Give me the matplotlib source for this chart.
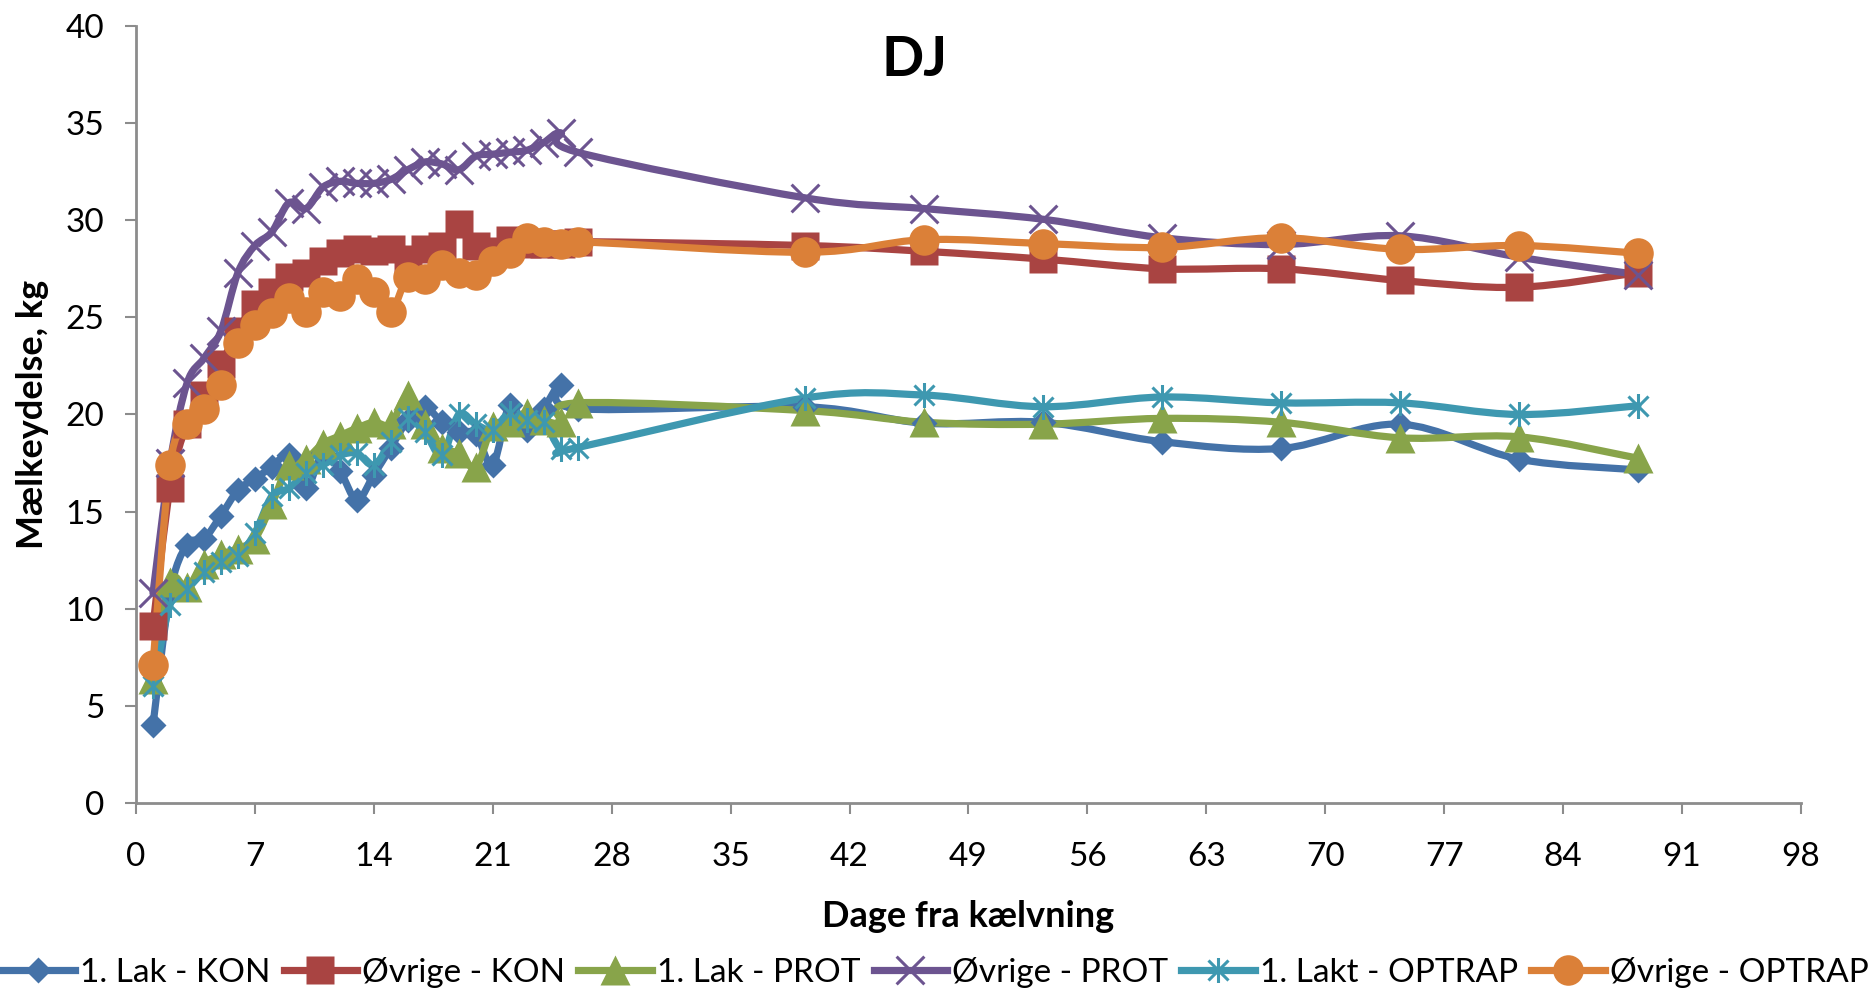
import numpy as np
import matplotlib
matplotlib.use("Agg")
import matplotlib.pyplot as plt
from matplotlib.path import Path
from matplotlib.patches import PathPatch
from matplotlib.lines import Line2D

plt.rcParams['font.family'] = ['Lato', 'DejaVu Sans']

# ---------------- data ----------------
days_daily = list(range(1, 27))
days_weekly = [39.4, 46.4, 53.4, 60.4, 67.4, 74.4, 81.4, 88.4]
days = days_daily + days_weekly

lak1_kon = [4.0, 10.8, 13.3, 13.6, 14.8, 16.1, 16.7, 17.3, 17.9, 16.2, 18.0, 17.1, 15.6, 16.9, 18.3,
            19.7, 20.4, 19.6, 19.1, 19.0, 17.4, 20.5, 19.2, 20.3, 21.5, 20.3,
            20.4, 19.55, 19.6, 18.6, 18.25, 19.5, 17.7, 17.15]
ovr_kon = [9.1, 16.2, 19.5, 21.0, 22.6, 24.3, 25.7, 26.3, 27.1, 27.3, 27.9, 28.3, 28.5, 28.4, 28.5,
           28.0, 28.5, 28.7, 29.8, 28.7, 28.4, 29.0, 28.8, 28.8, 28.8, 28.9,
           28.7, 28.4, 28.0, 27.5, 27.5, 26.9, 26.55, 27.3]
lak1_prot = [6.4, 11.4, 11.1, 12.3, 12.8, 13.1, 13.6, 15.4, 17.4, 17.7, 18.5, 18.9, 19.3, 19.6, 19.5,
             21.0, 19.5, 18.3, 18.0, 17.3, 19.4, 19.6, 20.1, 19.7, 19.6, 20.6,
             20.2, 19.6, 19.5, 19.8, 19.6, 18.8, 18.85, 17.75]
ovr_prot = [10.8, 17.5, 21.6, 22.9, 24.3, 27.3, 28.7, 29.4, 30.9, 30.6, 31.7, 32.0, 31.9, 31.9, 32.1,
            32.6, 33.0, 32.9, 32.6, 33.3, 33.4, 33.5, 33.6, 34.0, 34.5, 33.5,
            31.15, 30.6, 30.05, 29.1, 28.75, 29.2, 28.1, 27.2]
lak1_optrap = [6.0, 10.2, 11.0, 11.9, 12.4, 12.7, 13.9, 15.8, 16.2, 17.0, 17.4, 17.9, 18.0, 17.4, 18.6,
               19.8, 19.1, 17.9, 20.0, 19.5, 19.2, 20.1, 19.7, 19.6, 18.2, 18.3,
               20.85, 21.0, 20.4, 20.9, 20.6, 20.6, 20.0, 20.45]
ovr_optrap = [7.1, 17.4, 19.5, 20.3, 21.5, 23.7, 24.6, 25.2, 26.0, 25.3, 26.3, 26.1, 27.0, 26.3, 25.3,
              27.1, 27.0, 27.7, 27.3, 27.2, 27.9, 28.3, 29.1, 28.9, 28.8, 28.9,
              28.35, 29.0, 28.8, 28.6, 29.1, 28.5, 28.7, 28.3]

series_names = ['1. Lak - KON', 'Øvrige - KON', '1. Lak - PROT',
                'Øvrige - PROT', '1. Lakt - OPTRAP', 'Øvrige - OPTRAP']
series_values = [lak1_kon, ovr_kon, lak1_prot, ovr_prot, lak1_optrap, ovr_optrap]

x_ticks = list(range(0, 99, 7))
y_ticks = list(range(0, 41, 5))

title = 'DJ'
x_label = 'Dage fra kælvning'
y_label = 'Mælkeydelse, kg'

# ---------------- styles ----------------
colors = ['#4472A8', '#A94442', '#88A44A', '#6C5490', '#3E98B0', '#DB8038']

star_path = Path([(-1, -1), (1, 1), (-1, 1), (1, -1), (0, -1.25), (0, 1.25)],
                 [Path.MOVETO, Path.LINETO, Path.MOVETO, Path.LINETO, Path.MOVETO, Path.LINETO])
x_path = Path([(-1, -1), (1, 1), (-1, 1), (1, -1)],
              [Path.MOVETO, Path.LINETO, Path.MOVETO, Path.LINETO])

markers = [
    dict(marker='D', ms=13.5, mec='none'),
    dict(marker='s', ms=20, mec='none'),
    dict(marker='^', ms=22, mec='none'),
    dict(marker=x_path, ms=20, mew=2.2),
    dict(marker=star_path, ms=18, mew=2.2),
    dict(marker='o', ms=22, mec='none'),
]


def smooth_path(x, y):
    P = np.column_stack([x, y]).astype(float)
    n = len(P)
    verts = [P[0]]
    codes = [Path.MOVETO]
    for i in range(n - 1):
        p0 = P[i - 1] if i > 0 else P[i]
        p3 = P[i + 2] if i + 2 < n else P[i + 1]
        c1 = P[i] + (P[i + 1] - p0) / 6.0
        c2 = P[i + 1] - (p3 - P[i]) / 6.0
        verts += [c1, c2, P[i + 1]]
        codes += [Path.CURVE4] * 3
    return Path(verts, codes)


W, H = 1870, 996
fig = plt.figure(figsize=(W / 100, H / 100), dpi=100)
ax = fig.add_axes([136 / W, 1 - 803 / H, (1801 - 136) / W, (803 - 26) / H])

handles = []
for name, vals, col, mk in zip(series_names, series_values, colors, markers):
    patch = PathPatch(smooth_path(days, vals), facecolor='none', edgecolor=col,
                      lw=5.2, capstyle='round', joinstyle='round', clip_on=False)
    ax.add_patch(patch)
    kw = dict(mk)
    if 'mec' not in kw:
        kw['mec'] = col
    ax.plot(days, vals, linestyle='none', color=col, mfc=col, clip_on=False, **kw)
    handles.append(Line2D([0], [0], color=col, lw=5.2, mfc=col, **kw))

ax.set_xlim(0, 98)
ax.set_ylim(0, 40)
ax.set_xticks(x_ticks)
ax.set_yticks(y_ticks)
for s in ['top', 'right']:
    ax.spines[s].set_visible(False)
for s in ['left', 'bottom']:
    ax.spines[s].set_color('#8C8C8C')
    ax.spines[s].set_linewidth(2)
ax.tick_params(axis='both', direction='out', length=8, width=1.5, color='#8C8C8C',
               labelsize=24, labelcolor='black')
ax.tick_params(axis='y', pad=15)
ax.tick_params(axis='x', pad=20)

ax.set_xlabel(x_label, fontsize=26, fontweight='bold', labelpad=20)
ax.set_ylabel(y_label, fontsize=26, fontweight='bold', labelpad=12)

fig.text(915 / W, 1 - 60 / H, title, fontsize=40, fontweight='bold', ha='center', va='center')

fig.legend(handles, series_names, loc='center', bbox_to_anchor=(0.5, 1 - 972 / H),
           ncol=6, frameon=False, fontsize=24, handlelength=2.2, handletextpad=0.15,
           columnspacing=0.4, borderaxespad=0)

fig.savefig('out.png', dpi=100)
